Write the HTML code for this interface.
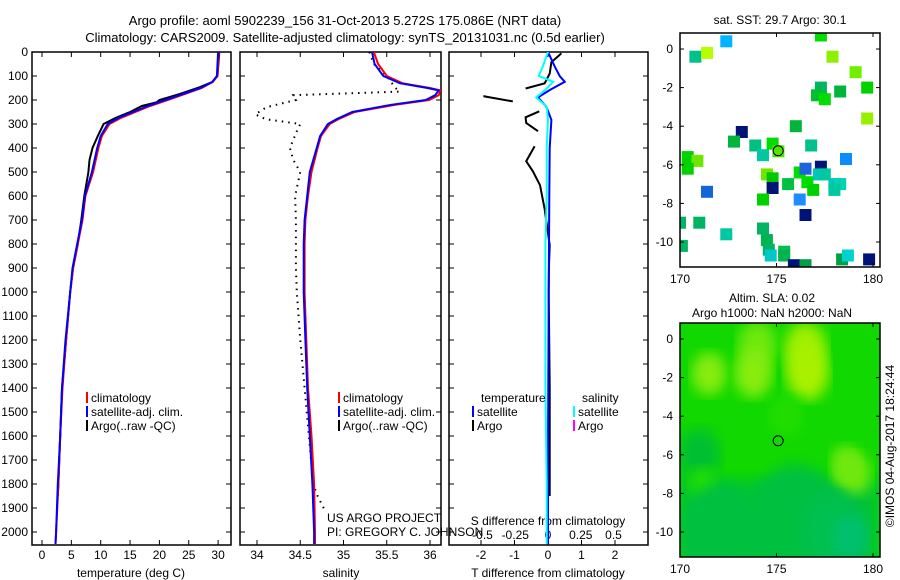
<!DOCTYPE html>
<html><head><meta charset="utf-8">
<style>
body{margin:0;background:#fff;}
svg{display:block;font-family:"Liberation Sans",sans-serif;}
text{font-size:12px;fill:#000;}
</style></head>
<body>
<svg id="fig" width="900" height="580" viewBox="0 0 900 580" xmlns="http://www.w3.org/2000/svg">
<defs>
  <clipPath id="clipT"><rect x="32" y="52" width="199" height="493"/></clipPath>
  <clipPath id="clipS"><rect x="240" y="52" width="201" height="493"/></clipPath>
  <clipPath id="clipD"><rect x="449" y="52" width="199" height="493"/></clipPath>
  <clipPath id="clipM1"><rect x="680" y="33" width="200" height="234"/></clipPath>
  <clipPath id="clipM2"><rect x="680" y="323" width="200" height="234"/></clipPath>
  <filter id="blur"><feGaussianBlur stdDeviation="7"/></filter>
</defs>
<text x="345" y="25" text-anchor="middle" style="font-size:13px">Argo profile: aoml 5902239_156 31-Oct-2013 5.272S 175.086E (NRT data)</text>
<text x="345" y="42" text-anchor="middle" style="font-size:13px">Climatology: CARS2009. Satellite-adjusted climatology: synTS_20131031.nc (0.5d earlier)</text>
<g id="g"></g>
</svg>
<script>
// ---- data ----
const tDepth = [0,100,125,150,175,200,225,250,275,300,350,400,500,600,700,800,900,1000,1200,1400,1600,1800,2000,2050];
const tSat   = [30,29.8,29,27,24,21,18,15.5,13,11.2,10,9.4,8.5,7.3,6.8,6.0,5.2,4.8,4.0,3.4,3.1,2.7,2.4,2.3];
const tClim  = [30.1,29.9,29.1,27.2,24.3,21.4,18.4,15.9,13.4,11.5,10.2,9.6,8.7,7.4,6.9,6.1,5.3,4.8,4.1,3.5,3.1,2.8,2.4,2.3];
const tArgoDepth = [0,100,125,150,175,200,210,225,250,275,300,350,400,450,500,600,700,800,900,1000,1200,1400,1600,1800,1850];
const tArgo  = [30.2,29.9,29,26.5,23.5,20,19.5,17,15,12.5,10.5,9.5,8.6,8.1,7.9,7.2,6.7,6.1,5.3,4.8,4.1,3.4,3.1,2.8,2.7];

const sDepth = [0,50,100,130,150,160,180,200,220,250,280,300,350,400,500,600,700,800,1000,1200,1400,1600,1800,2000,2050];
const sSat   = [35.33,35.36,35.46,35.65,35.97,36.1,36.06,35.95,35.55,35.1,34.92,34.82,34.73,34.69,34.61,34.58,34.55,34.54,34.54,34.56,34.58,34.61,34.64,34.66,34.66];
const sClim  = [35.35,35.4,35.5,35.68,36.0,36.12,36.1,35.99,35.6,35.13,34.94,34.84,34.74,34.7,34.63,34.59,34.56,34.55,34.55,34.57,34.59,34.63,34.66,34.67,34.67];
const sArgoDepth = [0,50,100,150,165,180,200,230,260,280,300,330,400,450,500,600,700,800,900,1000,1200,1400,1600,1800,1850,1900,1920];
const sArgo  = [35.3,35.35,35.5,35.6,35.65,34.42,34.45,34.11,33.98,34.1,34.5,34.46,34.38,34.42,34.5,34.44,34.45,34.45,34.45,34.46,34.5,34.55,34.6,34.65,34.7,34.77,34.79];

const dDepth = [0,60,100,124,158,189,228,283,400,600,800,1000,1400,1800,2050];
const dTsat  = [0,0.2,0.35,0.5,0.06,-0.3,-0.05,0.1,0.05,0.04,0.03,0.02,0.01,0.0,0.0];
const dSsat  = [0,-0.04,-0.07,0.04,-0.02,-0.09,-0.01,0.0,-0.01,-0.01,-0.02,-0.02,-0.02,-0.01,-0.01];
const dArgoDepth = [6,42,90,131,152,null,180,185,206,null,247,272,296,330,null,393,455,497,555,653,805,888,1000,1400,1800,1850];
const dTargo = [0.4,0.1,0.05,-0.1,-0.67,null,-1.9,-1.9,-1.05,null,-0.26,-0.67,-0.65,-0.3,null,-0.4,-0.65,-0.45,-0.24,-0.1,0.05,0.03,0.02,0.05,0.05,0.05];

const depthTicks = [0,100,200,300,400,500,600,700,800,900,1000,1100,1200,1300,1400,1500,1600,1700,1800,1900,2000];
const tTicks = [0,5,10,15,20,25,30];
const sTicks = [34,34.5,35,35.5,36];
const sTickLabels = ['34','34.5','35','35.5','36'];
const dTTicks = [-2,-1,0,1,2];
const dSTicks = [-0.5,-0.25,0,0.25,0.5];
const dSTickLabels = ['-0.5','-0.25','0','0.25','0.5'];
const lonTicks = [170,175,180];
const latTicks = [0,-2,-4,-6,-8,-10];

// SST squares: lon, lat, colour
const sstLon = [172.4,170.8,171.4,177.3,177.9,179.1,179.7,177.3,177.1,177.5,178.3,179.7,176.0,173.2,172.8,173.9,174.3,174.8,175.1,176.8,178.6,177.3,170.4,170.9,170.4,174.5,174.8,174.8,175.6,176.2,176.5,176.6,176.9,177.2,177.5,178.0,178.3,178.0,171.4,176.2,174.3,176.5,171.0,170.0,172.4,174.3,174.5,174.6,175.4,174.7,175.4,170.1,175.9,176.5,178.4,178.7,179.8];
const sstLat = [0.4,-0.4,-0.2,0.7,-0.4,-1.2,-2.0,-2.0,-2.4,-2.6,-2.2,-3.6,-4.0,-4.3,-4.8,-5.0,-5.5,-4.9,-5.3,-5.0,-5.7,-6.1,-5.6,-5.8,-6.2,-6.5,-6.7,-7.2,-7.0,-6.4,-6.2,-6.9,-7.3,-6.5,-6.5,-7.0,-7.0,-7.3,-7.4,-7.8,-7.8,-8.6,-9.0,-9.0,-9.6,-9.3,-9.9,-10.4,-10.5,-10.7,-10.7,-10.2,-11.2,-11.2,-10.9,-10.7,-10.9];
const sstCol = ['#00b4ff','#00c08c','#b4ff00','#00dd00','#8cf000','#6ef000','#00d200','#00b464','#00c030','#00dd00','#00b43c','#96f000','#00b43c','#001478','#00b43c','#00c080','#00c8a0','#00dd00','#50e600','#00c08c','#0a8cff','#001478','#00d200','#6ee600','#00d200','#6ee600','#00c800','#001478','#00c040','#00dd00','#1e64dc','#00dd00','#00d200','#00c8b4','#00c8a0','#00c8b4','#00d2b4','#00c8a0','#1464dc','#1e8cff','#00d200','#001478','#00b464','#00b464','#00c8a0','#00b464','#00b450','#00b464','#00c050','#00c8c8','#00b450','#00b464','#001478','#00a046','#00a046','#00d2d2','#001478'];

// SLA patches: lon, lat, radius(deg), colour
const slaLon = [174,176.5,171.5,173.8,176.6,171,179,175.5,176,178,178.8,171.2,172,178.6];
const slaLat = [-0.3,-0.5,-1.8,-1.8,-1.8,-6,-7,-4,-9.5,-10,-10.3,-7.5,-10,-6.5];
const slaR   = [1.0,1.1,0.9,1.0,1.1,1.1,0.9,0.9,2.4,1.7,0.9,0.7,2.0,0.8];
const slaCol = ['#70e810','#a0f000','#88ec10','#88ec10','#a8f000','#00c030','#70e810','#20dd00','#00c040','#00c050','#00c070','#20e000','#00c040','#70e810'];

// ---- helpers ----
const NS='http://www.w3.org/2000/svg';
const G=document.getElementById('g');
function mk(tag,attrs,parent){const e=document.createElementNS(NS,tag);for(const k in attrs)e.setAttribute(k,attrs[k]);(parent||G).appendChild(e);return e;}
const yD = d => 52 + d*0.24;
const xT = t => 42 + t*5.87;
const xS = s => 257 + (s-34)*86.5;
const xDT = v => 548 + v*33.5;
const xDS = v => 548 + v*131;
const mX = lon => 680 + (lon-170)*19.3;
const m1Y = lat => 49 - lat*19.3;
const m2Y = lat => 339 - lat*19.3;

function line(xs,ys,xf,color,w,clip,name,dash){
  let d='',pen=false;
  for(let i=0;i<xs.length;i++){
    if(xs[i]===null||ys[i]===null){pen=false;continue;}
    d+=(pen?'L':'M')+xf(xs[i]).toFixed(1)+' '+yD(ys[i]).toFixed(1);pen=true;
  }
  const p=mk('path',{d:d,fill:'none',stroke:color,'stroke-width':w,'clip-path':'url(#'+clip+')'});
  if(dash)p.setAttribute('stroke-dasharray',dash);
  
  
}
function frame(x,y,w,h,name){
  const r=mk('rect',{x:x,y:y,width:w,height:h,fill:'none',stroke:'#000','stroke-width':1.5});
  
  
}
function txt(x,y,s,anchor,name,extra){
  const t=mk('text',{x:x,y:y,'text-anchor':anchor||'start'});t.textContent=s;
  if(extra)for(const k in extra)t.setAttribute(k,extra[k]);
  
  
  return t;
}
function tick(x1,y1,x2,y2){const l=mk('line',{x1:x1,y1:y1,x2:x2,y2:y2,stroke:'#000','stroke-width':1});
  
  }

// ---- panel frames & depth ticks ----
const panels=[[32,231,'temperature-panel'],[240,441,'salinity-panel'],[449,648,'difference-panel']];
panels.forEach(p=>{
  frame(p[0],52,p[1]-p[0],493,p[2]);
  depthTicks.forEach(d=>{tick(p[0],yD(d),p[0]+5,yD(d));tick(p[1]-5,yD(d),p[1],yD(d));});
});
depthTicks.forEach(d=>txt(28,yD(d)+4,String(d),'end','depth-tick-label'));

// temperature axis
tTicks.forEach(t=>{tick(xT(t),545,xT(t),540);tick(xT(t),52,xT(t),57);txt(xT(t),559,String(t),'middle','temperature-tick-label');});
txt(131,577,'temperature (deg C)','middle','x-axis-title-temperature');
// salinity axis
sTicks.forEach((s,i)=>{tick(xS(s),545,xS(s),540);tick(xS(s),52,xS(s),57);txt(xS(s),559,sTickLabels[i],'middle','salinity-tick-label');});
txt(341,577,'salinity','middle','x-axis-title-salinity');
// diff axis
dTTicks.forEach(v=>{tick(xDT(v),545,xDT(v),540);tick(xDT(v),52,xDT(v),57);txt(xDT(v),559,String(v),'middle','t-diff-tick-label');});
dSTicks.forEach((v,i)=>txt(xDS(v),539,dSTickLabels[i],'middle','s-diff-tick-label'));
txt(548,525,'S difference from climatology','middle','s-diff-axis-title');
txt(548,577,'T difference from climatology','middle','x-axis-title-t-diff');

// ---- series ----
line(tArgo,tArgoDepth,xT,'#000',2,'clipT','argo-temperature-line');
line(tClim,tDepth,xT,'#ff0000',2,'clipT','climatology-temperature-line');
line(tSat,tDepth,xT,'#0000ff',2,'clipT','satellite-temperature-line');

line(sArgo,sArgoDepth,xS,'#000',2,'clipS','argo-salinity-line','1.5 5');
line(sClim,sDepth,xS,'#ff0000',2,'clipS','climatology-salinity-line');
line(sSat,sDepth,xS,'#0000ff',2,'clipS','satellite-salinity-line');

line(dTargo,dArgoDepth,xDT,'#000',2,'clipD','argo-t-diff-line');
line(dTsat,dDepth,xDT,'#0000ff',2,'clipD','satellite-t-diff-line');
line(dSsat,dDepth,xDS,'#00ffff',2,'clipD','satellite-s-diff-line');

// ---- legends ----
function leg(x,y,col,label,name){
  const r=mk('rect',{x:x,y:y-10,width:2,height:11,fill:col});
  
  
  txt(x+5,y,label,'start',name);
}
leg(86,402,'#ff0000','climatology','legend-climatology');
leg(86,416,'#0000ff','satellite-adj. clim.','legend-satellite-adj');
leg(86,430,'#000','Argo(..raw -QC)','legend-argo');
leg(338,402,'#ff0000','climatology','legend-climatology-sal');
leg(338,416,'#0000ff','satellite-adj. clim.','legend-satellite-adj-sal');
leg(338,430,'#000','Argo(..raw -QC)','legend-argo-sal');
txt(481,402,'temperature','start','legend-temperature-header');
txt(582,402,'salinity','start','legend-salinity-header');
leg(472,416,'#0000ff','satellite','legend-t-satellite');
leg(472,430,'#000','Argo','legend-t-argo');
leg(573,416,'#00ffff','satellite','legend-s-satellite');
leg(573,430,'#ff00ff','Argo','legend-s-argo');
txt(327,522,'US ARGO PROJECT','start','project-label');
txt(327,536,'PI: GREGORY C. JOHNSON','start','pi-label');

// ---- map 1: SST ----
txt(780,24,'sat. SST: 29.7 Argo: 30.1','middle','sst-map-title');
const g1=mk('g',{'clip-path':'url(#clipM1)'});
for(let i=0;i<sstLon.length;i++){
  const r=mk('rect',{x:(mX(sstLon[i])-6).toFixed(1),y:(m1Y(sstLat[i])-6).toFixed(1),width:12,height:12,fill:sstCol[i]},g1);
  
  
}
frame(680,33,200,234,'sst-map-frame');
// ---- map 2: SLA ----
txt(772,302,'Altim. SLA: 0.02','middle','sla-map-title-1');
txt(772,317,'Argo h1000: NaN h2000: NaN','middle','sla-map-title-2');
const g2=mk('g',{'clip-path':'url(#clipM2)'});
mk('rect',{x:680,y:323,width:200,height:234,fill:'#10d800'},g2);
mk('rect',{x:680,y:480,width:200,height:90,fill:'#00c430',filter:'url(#blur)'},g2);
for(let i=0;i<slaLon.length;i++){
  const e=mk('ellipse',{cx:mX(slaLon[i]).toFixed(1),cy:m2Y(slaLat[i]).toFixed(1),rx:(slaR[i]*19.3).toFixed(1),ry:(slaR[i]*24).toFixed(1),fill:slaCol[i],filter:'url(#blur)'},g2);
  
  
}
frame(680,323,200,234,'sla-map-frame');
// map axes
[[m1Y,33,267,'sst'],[m2Y,323,557,'sla']].forEach(m=>{
  latTicks.forEach(l=>{tick(680,m[0](l),684,m[0](l));tick(876,m[0](l),880,m[0](l));txt(673,m[0](l)+4,String(l),'end',m[3]+'-lat-label');});
  lonTicks.forEach(l=>{tick(mX(l),m[2],mX(l),m[2]-4);tick(mX(l),m[1],mX(l),m[1]+4);txt(mX(l),m[2]+16,String(l),'middle',m[3]+'-lon-label');});
  const c=mk('circle',{cx:mX(175.086),cy:m[0](-5.272),r:5,fill:'none',stroke:'#000','stroke-width':1});
  
  
});
txt(0,0,'\u00A9IMOS 04-Aug-2017 18:24:44','middle','timestamp-label',{transform:'translate(894,446) rotate(-90)'});
</script>
</body></html>
